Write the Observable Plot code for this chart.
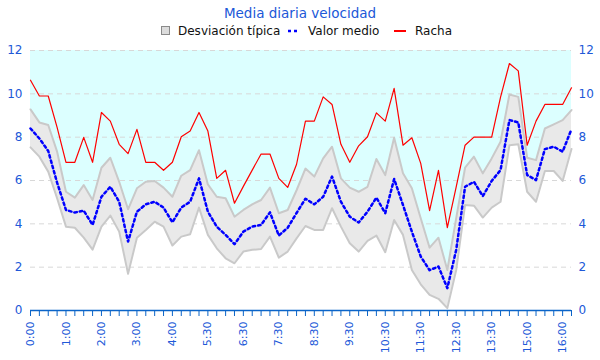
<!DOCTYPE html>
<html>
<head>
<meta charset="utf-8">
<script src="https://cdn.jsdelivr.net/npm/d3@7"></script>
<script src="https://cdn.jsdelivr.net/npm/@observablehq/plot@0.6"></script>
<style>
  body { margin: 0; background: #fff; font-family: "DejaVu Sans", sans-serif; }
  #head { display: block; }
  #chart svg { display: block; }
</style>
</head>
<body>
<svg id="head" width="600" height="40" font-family="DejaVu Sans" font-size="12">
  <text x="300" y="18" text-anchor="middle" fill="#2058d8" font-size="13.5">Media diaria velocidad</text>
  <rect x="161.5" y="26.5" width="8" height="8" fill="#dcdcdc" stroke="#8a8a8a" stroke-width="1"></rect>
  <text x="178" y="35" fill="#111">Desviación típica</text>
  <line x1="288" y1="31" x2="300" y2="31" stroke="blue" stroke-width="2.5" stroke-dasharray="3,3"></line>
  <text x="308" y="35" fill="#111">Valor medio</text>
  <line x1="394" y1="31" x2="406" y2="31" stroke="red" stroke-width="2"></line>
  <text x="415" y="35" fill="#111">Racha</text>
</svg>
<div id="chart"></div>
<script>
// Time labels (one every 4 points)
const timeLabels = ["0:00","1:00","2:00","3:00","4:00","5:30","6:30","7:30","8:30","9:30","10:30","11:30","12:30","13:30","15:00","16:00"];

// Racha (gust)
const racha = [10.63, 9.9, 9.9, 8.45, 6.84, 6.84, 7.99, 6.84, 9.14, 8.74,
  7.67, 7.24, 8.36, 6.84, 6.84, 6.47, 6.84, 8.02, 8.28, 9.14,
  8.28, 6.1, 6.47, 4.95, 5.73, 6.48, 7.22, 7.22, 6.1, 5.68,
  6.75, 8.74, 8.74, 9.86, 9.51, 7.67, 6.84, 7.6, 8.02, 9.12,
  8.74, 10.25, 7.63, 7.97, 6.79, 4.61, 6.47, 3.82, 5.71, 7.63,
  8.0, 8.0, 8.0, 9.85, 11.4, 11.06, 7.63, 8.74, 9.51, 9.51,
  9.51, 10.28];

// Valor medio (mean)
const medio = [8.4, 7.94, 7.36, 5.9, 4.64, 4.52, 4.61, 3.95, 5.25, 5.71,
  5.02, 3.18, 4.56, 4.9, 5.02, 4.75, 4.07, 4.75, 5.02, 6.1,
  4.56, 3.87, 3.49, 3.06, 3.64, 3.87, 3.95, 4.53, 3.46, 3.82,
  4.5, 5.16, 4.9, 5.25, 6.18, 5.02, 4.33, 4.06, 4.56, 5.21,
  4.49, 6.07, 4.87, 3.64, 2.49, 1.86, 2.03, 1.03, 2.8, 5.71,
  5.94, 5.28, 5.98, 6.48, 8.79, 8.68, 6.25, 6.02, 7.45, 7.56,
  7.33, 8.37];

// Desviación típica: upper and lower bounds
const superior = [9.28, 8.68, 8.56, 7.33, 5.48, 5.21, 5.79, 5.1, 6.59, 7.05,
  5.94, 4.67, 5.64, 5.94, 5.98, 5.67, 5.25, 6.22, 6.48, 7.4,
  5.82, 5.25, 5.18, 4.33, 4.64, 4.9, 5.1, 5.67, 4.49, 4.64,
  5.55, 6.55, 6.18, 7.02, 7.56, 6.1, 5.67, 5.48, 5.71, 6.99,
  6.25, 7.97, 6.33, 5.64, 4.26, 2.9, 3.36, 1.87, 4.26, 6.59,
  7.1, 6.33, 7.02, 7.79, 9.97, 9.86, 7.05, 6.94, 8.4, 8.59,
  8.79, 9.25];
const inferior = [7.53, 7.1, 6.41, 5.18, 3.87, 3.82, 3.36, 2.81, 3.87, 4.38,
  3.64, 1.69, 3.36, 3.72, 4.1, 3.87, 3.0, 3.41, 3.52, 4.75,
  3.49, 2.87, 2.41, 2.18, 2.72, 2.8, 2.84, 3.41, 2.44, 2.72,
  3.33, 3.9, 3.72, 3.72, 4.72, 3.87, 3.1, 2.72, 3.21, 3.46,
  2.69, 4.18, 3.49, 1.87, 1.21, 0.72, 0.54, 0.11, 1.87, 4.87,
  4.84, 4.29, 4.75, 5.02, 7.63, 7.67, 5.48, 5.02, 6.44, 6.44,
  5.98, 7.45];

const yTicks = [0, 2, 4, 6, 8, 10, 12];

const idx = d3.range(racha.length);
const rows = idx.map(i => ({i, racha: racha[i], medio: medio[i], sup: superior[i], inf: inferior[i]}));
const yMax = yTicks[yTicks.length - 1];
const blueTxt = "#2058d8";
const blueAxis = "#0a64c8";

const chart = Plot.plot({
  width: 600,
  height: 320,
  marginLeft: 30,
  marginRight: 29,
  marginTop: 10,
  marginBottom: 50,
  style: {fontFamily: "DejaVu Sans", fontSize: "11px", background: "white"},
  x: {type: "linear", domain: [0, idx.length - 1]},
  y: {domain: [0, yMax]},
  marks: [
    Plot.areaY(rows, {x: "i", y1: "sup", y2: () => yMax, fill: "#dcffff", curve: "linear"}),
    Plot.ruleY(yTicks.filter(v => v > 0), {stroke: "#d8d8d8", strokeDasharray: "5,4", strokeWidth: 1}),
    Plot.areaY(rows, {x: "i", y1: "inf", y2: "sup", fill: "#e9e9e9"}),
    Plot.lineY(rows, {x: "i", y: "sup", stroke: "#c9c9c9", strokeWidth: 2}),
    Plot.lineY(rows, {x: "i", y: "inf", stroke: "#c9c9c9", strokeWidth: 2}),
    Plot.lineY(rows, {x: "i", y: "racha", stroke: "red", strokeWidth: 1.2}),
    Plot.lineY(rows, {x: "i", y: "medio", stroke: "blue", strokeWidth: 2.5, strokeDasharray: "2.5,3"}),
    Plot.axisY({anchor: "left", ticks: yTicks, tickSize: 0, tickPadding: 8, fill: blueTxt, fontSize: 12, label: null}),
    Plot.axisY({anchor: "right", ticks: yTicks, tickSize: 0, tickPadding: 7, fill: blueTxt, fontSize: 12, label: null}),
    Plot.axisX({ticks: idx, tickFormat: i => i % 4 === 0 ? timeLabels[i / 4] : "", tickRotate: -90,
      tickSize: 6, tickPadding: 5, stroke: blueAxis, fill: blueTxt, fontSize: 11, label: null}),
    Plot.ruleY([0], {stroke: blueAxis, strokeWidth: 1.5})
  ]
});
document.getElementById("chart").appendChild(chart);
</script>
</body>
</html>
